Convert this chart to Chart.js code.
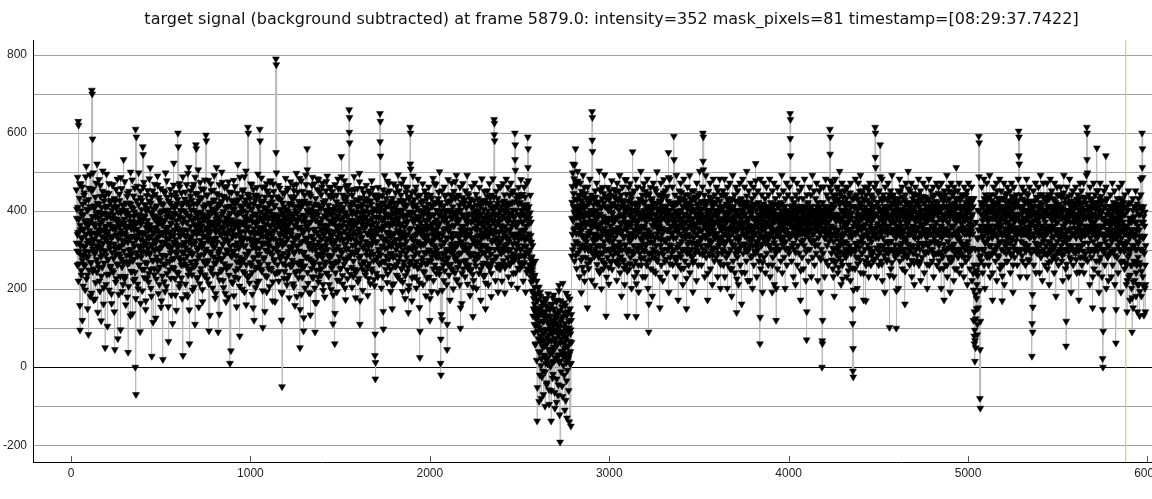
<!DOCTYPE html>
<html>
<head>
<meta charset="utf-8">
<script src="https://cdn.jsdelivr.net/npm/chart.js@4.4.0/dist/chart.umd.min.js"></script>
<style>
  html, body { margin: 0; padding: 0; background: #fff; overflow: hidden; }
  canvas { display: block; }
</style>
</head>
<body>
<canvas id="chart" width="1200" height="499"></canvas>
<script>
const chartTitle = 'target signal (background subtracted) at frame 5879.0: intensity=352 mask_pixels=81 timestamp=[08:29:37.7422]';
const currentFrame = 5879;
const xRange = [-212, 6237];
const yRange = [-243, 838];
const xTickValues = [0, 1000, 2000, 3000, 4000, 5000, 6000];

// segments of 600 frames: segN holds the even offsets (start + 2i), segNb the odd ones (start + 2i + 1)
const segmentStarts = [30, 630, 1230, 1830, 2430, 3030, 3630, 4230, 4830, 5430];

const seg0 = [
  455, 382, 298, 340, 410, 630, 620, 265, 318, 470, 95, 352, 288, 401, 236, 330, 462, 274, 355, 208,
  391, 310, 447, 260, 372, 295, 488, 341, 226, 405, 318, 150, 362, 283, 430, 249, 376, 321, 493, 268,
  344, 412, 190, 710, 700, 585, 303, 457, 252, 368, 329, 414, 175, 386, 297, 472, 338, 244, 420, 311,
  266, 398, 352, 481, 221, 365, 307, 438, 283, 119, 392, 335, 256, 451, 318, 377, 204, 426, 299, 348,
  50, 410, 287, 362, 495, 238, 341, 392, 276, 318, 445, 198, 367, 305, 422, 259, 383, 331, 163, 402,
  294, 356, 467, 243, 381, 316, 432, 45, 352, 289, 410, 227, 375, 339, 482, 262, 308, 398, 187, 361,
  427, 284, 343, 96, 396, 312, 458, 257, 369, 325, 212, 415, 298, 380, 344, 476, 233, 358, 402, 271,
  335, 390, 180, 446, 38, 362, 301, 421, 268, 387, 329, 500, 246, 355, 410, 292, 137, 373, 318, 439,
  277, 352, 398, 226, 0, 610, -70, 590, 333, 464, 285, 372, 201, 417, 346, 262, 389, 305, 452, 164,
  367, 296, 428, 251, 340, 565, 545, 311, 474, 230, 385, 323, 415, 148, 358, 292, 440, 267, 376, 332,
  407, 218, 352, 483, 294, 365, 251, 421, 336, 182, 28, 397, 315, 452, 274, 344, 388, 237, 469, 302,
  358, 126, 411, 283, 376, 329, 490, 248, 366, 304, 435, 212, 382, 345, 274, 458, 321, 170, 399, 287,
  341, 20, 417, 265, 373, 318, 447, 194, 356, 402, 286, 330, 478, 240, 391, 312, 155, 426, 347, 271,
  386, 305, 456, 228, 369, 338, 414, 277, 112, 395, 321, 467, 253, 352, 408, 296, 185, 437, 328, 363,
  244, 419, 306, 600, 565, 351, 282, 471, 215, 384, 336, 402, 262, 447, 313, 176, 370, 30, 421, 293
];
const seg0b = [
  318, 405, 262, 487, 346, 221, 379, 296, 433, 158, 364, 312, 470, 248, 391, 333, 120, 418, 287, 352,
  264, 441, 307, 376, 198, 425, 341, 515, 283, 368, 236, 402, 325, 84, 459, 297, 350, 411, 182, 374,
  339, 268, 452, 314, 386, 245, 498, 327, 172, 407, 290, 361, 436, 217, 344, 393, 276, 521, 308, 141,
  383, 322, 256, 418, 345, 195, 466, 301, 372, 234, 409, 352, 288, 503, 318, 162, 395, 267, 438, 331,
  296, 358, 212, 447, 325, 384, 105, 413, 276, 349, 471, 239, 393, 316, 255, 428, 362, 188, 334, 468,
  248, 412, 336, 279, 391, 142, 360, 425, 303, 218, 456, 339, 380, 265, 412, 73, 329, 375, 291, 444,
  309, 364, 233, 486, 351, 277, 403, 194, 342, 416, 268, 532, 317, 370, 226, 398, 340, 160, 421, 287,
  356, 438, 264, 321, 395, 207, 451, 330, 286, 374, 132, 418, 302, 362, 245, 480, 336, 273, 406, 222,
  387, 310, 459, 243, 366, 176, 327, 427, 294, 354, 213, 392, 338, 498, 262, 311, 380, 91, 435, 328,
  282, 404, 345, 196, 377, 296, 462, 323, 251, 388, 417, 269, 343, 170, 401, 316, 366, 228, 453, 305,
  364, 240, 426, 332, 289, 511, 356, 202, 395, 310, 437, 274, 348, 115, 406, 326, 253, 380, 299, 443,
  318, 387, 226, 414, 351, 273, 467, 335, 189, 372, 300, 428, 257, 396, 341, 154, 420, 308, 365, 234,
  401, 286, 346, 452, 219, 377, 320, 263, 498, 342, 207, 385, 314, 436, 272, 359, 66, 403, 330, 250,
  344, 421, 293, 368, 185, 442, 309, 382, 256, 413, 337, 523, 279, 350, 227, 394, 318, 448, 146, 376,
  292, 357, 430, 241, 389, 314, 206, 462, 338, 274, 401, 352, 229, 415, 296, 346, 488, 263, 381, 320
];
const seg1 = [
  352, 276, 431, 318, 213, 395, 337, 468, 259, 372, 181, 424, 301, 512, 247, 60, 386, 329, 452, 270,
  403, 315, 237, 377, 461, 292, 348, 418, 205, 366, 324, 487, 262, 570, 560, 341, 391, 228, 445, 307,
  379, 154, 426, 287, 355, 474, 243, 398, 313, 362, 435, 199, 381, 336, 272, 456, 318, 389, 233, 414,
  296, 595, 580, 352, 440, 268, 371, 325, 479, 214, 387, 342, 133, 416, 291, 363, 452, 255, 398, 320,
  372, 238, 427, 309, 491, 266, 357, 403, 189, 380, 331, 445, 278, 365, 410, 90, 349, 297, 468, 224,
  384, 342, 419, 275, 360, 500, 251, 393, 316, 438, 204, 371, 327, 461, 289, 346, 409, 168, 376, 301,
  432, 258, 364, 322, 475, 236, 389, 350, 10, 413, 287, 367, 448, 219, 378, 334, 295, 421, 352, 183,
  405, 313, 463, 247, 371, 338, 426, 270, 390, 309, 520, 228, 357, 396, 282, 80, 414, 345, 263, 437,
  319, 372, 200, 452, 333, 401, 274, 366, 488, 241, 383, 312, 429, 160, 358, 397, 288, 444, 615, 600,
  360, 298, 417, 235, 381, 329, 470, 261, 346, 405, 187, 373, 314, 456, 279, 120, 392, 340, 428, 253,
  368, 303, 441, 216, 387, 326, 495, 270, 356, 412, 290, 610, 580, 345, 423, 251, 378, 319, 462, 196,
  374, 336, 409, 281, 358, 143, 436, 300, 385, 349, 471, 232, 397, 315, 264, 445, 328, 383, 207, 418,
  294, 361, 478, 249, 392, 337, 424, 170, 375, 306, 451, 272, 350, 415, 240, 384, 790, 775, 326, 437,
  263, 371, 312, 466, 221, 389, 343, 405, 286, 358, 430, 192, 376, -50, 312, 447, 266, 395, 338, 411,
  245, 373, 320, 484, 279, 356, 402, 226, 387, 331, 459, 297, 365, 178, 420, 309, 382, 347, 437, 264
];
const seg1b = [
  401, 338, 264, 449, 307, 186, 372, 420, 285, 351, 497, 236, 389, 322, 147, 414, 296, 361, 438, 252,
  335, 428, 289, 198, 377, 343, 469, 258, 402, 317, 110, 383, 445, 272, 356, 230, 419, 301, 364, 506,
  281, 396, 346, 214, 433, 325, 371, 253, 457, 309, 392, 168, 348, 411, 289, 377, 237, 480, 336, 264,
  417, 303, 358, 442, 226, 385, 331, 274, 398, 93, 356, 421, 296, 349, 470, 247, 372, 315, 406, 203,
  329, 454, 283, 366, 308, 429, 177, 392, 346, 268, 512, 321, 381, 239, 418, 352, 291, 441, 136, 373,
  303, 387, 246, 425, 339, 279, 474, 316, 222, 399, 357, 436, 265, 343, 189, 410, 327, 383, 252, 463,
  341, 295, 412, 179, 376, 324, 449, 260, 395, 310, 42, 367, 428, 284, 351, 216, 404, 337, 479, 298,
  362, 231, 418, 340, 286, 391, 155, 446, 319, 374, 253, 430, 305, 365, 208, 487, 332, 271, 398, 348,
  278, 410, 324, 369, 245, 455, 311, 386, 193, 421, 347, 290, 503, 263, 374, 330, 415, 230, 359, 440,
  297, 378, 216, 433, 345, 268, 406, 322, 468, 243, 387, 308, 152, 419, 355, 282, 441, 326, 371, 204,
  393, 318, 461, 257, 346, 412, 289, 374, 221, 437, 305, 358, 264, 398, 336, 485, 246, 383, 315, 102,
  351, 426, 277, 392, 318, 462, 235, 367, 334, 408, 193, 452, 297, 380, 342, 253, 420, 311, 364, 476,
  327, 401, 254, 346, 436, 288, 383, 219, 470, 330, 365, 276, 412, 168, 391, 303, 550, 498, 358, 242,
  385, 296, 433, 316, 372, 245, 459, 338, 278, 403, 325, 121, 368, 190, 421, 352, 292, 384, 228, 446,
  318, 364, 405, 261, 378, 344, 211, 454, 329, 287, 399, 351, 236, 417, 306, 372, 475, 258, 340, 394
];
const seg2 = [
  305, 418, 262, 379, 214, 466, 331, 292, 437, 158, 364, 401, 245, 497, 312, 373, 268, 449, 336, 229,
  412, 298, 484, 50, 359, 264, 423, 187, 376, 322, 451, 255, 390, 93, 348, 295, 426, 203, 383, 331,
  468, 281, 402, 560, 243, 363, 316, 448, 191, 421, 305, 372, 134, 439, 274, 391, 334, 232, 487, 313,
  399, 262, 351, 470, 203, 90, 377, 300, 418, 166, 345, 456, 283, 392, 231, 481, 321, 368, 249, 409,
  289, 355, 442, 253, 381, 311, 472, 212, 364, 294, 421, 341, 180, 403, 270, 452, 323, 384, 241, 490,
  302, 361, 415, 233, 347, 461, 281, 394, 323, 436, 199, 372, 286, 450, 340, 111, 404, 263, 381, 318,
  60, 468, 242, 362, 303, 424, 193, 388, 334, 482, 271, 353, 411, 222, 379, 301, 459, 254, 540, 342,
  293, 402, 213, 441, 329, 372, 264, 478, 314, 391, 173, 424, 302, 361, 437, 250, 386, 327, 466, 282,
  660, 640, 352, 410, 238, 377, 296, 455, 205, 393, 341, 423, 272, 361, 489, 251, 398, 312, 178, 430,
  322, 369, 248, 458, 301, 383, 412, 227, 349, 475, 110, 397, 285, 434, 330, 262, 366, 418, 197, 385,
  307, 447, 271, 359, 401, 236, 384, 322, 466, 288, 343, 427, 184, 375, 311, 452, 266, 398, 339, 214,
  426, 297, 364, 478, 245, 382, 327, 406, 273, 351, 440, 209, 30, -30, 358, 442, 276, 401, 322, 369,
  232, 461, 384, 294, 415, 356, 650, 630, 288, 410, 203, 352, 440, 311, 380, 143, 421, 272, 362, 491,
  305, 393, 251, 432, 346, 368, 217, 477, 322, 385, 261, 414, 337, 452, 290, 369, 194, 425, 310, 380,
  150, 433, 341, 282, 470, 214, 372, 323, 409, 258, 391, 302, 464, 263, 350, 421, 231, 383, 314, 452
];
const seg2b = [
  352, 274, 431, 319, 388, 206, 453, 296, 363, 412, 241, 378, 332, 469, 181, 395, 310, 357, 425, 264,
  338, 385, 247, 148, 408, 319, 478, 272, 353, 230, 416, 345, 291, 127, 386, 441, 260, 371, 324, 492,
  283, 360, 418, 506, 331, 215, 397, 352, 278, 443, 318, 190, 372, 405, 336, 253, 466, 302, 381, 229,
  414, 328, 270, 387, 354, 166, 432, 313, 249, 399, 345, 483, 290, 372, 218, 415, 337, 265, 451, 306,
  371, 235, 408, 329, 462, 281, 354, 197, 423, 341, 300, 389, 262, 427, 352, 312, 476, 241, 364, 330,
  398, 287, 350, 441, 212, 376, 329, 404, 267, 461, 337, 254, 391, 315, 370, 185, 437, 299, 348, 412,
  138, 374, 325, 402, 270, 441, 359, 223, 386, 310, 457, 343, 283, 398, 327, 252, 418, 364, 488, 296,
  361, 235, 409, 325, 384, 278, 430, 349, 203, 397, 316, 463, 276, 342, 388, 227, 452, 305, 371, 336,
  602, 575, 418, 286, 364, 330, 401, 256, 441, 313, 376, 233, 420, 348, 291, 456, 327, 369, 244, 393,
  340, 412, 296, 373, 219, 428, 355, 280, 497, 318, 171, 382, 343, 264, 409, 333, 458, 251, 374, 306,
  393, 268, 354, 426, 312, 385, 246, 433, 299, 367, 412, 258, 342, 397, 227, 376, 318, 445, 286, 364,
  349, 418, 314, 252, 395, 336, 459, 290, 370, 225, 406, 338, 85, 12, 320, 385, 241, 430, 345, 283,
  415, 302, 357, 438, 264, 397, 578, 541, 335, 268, 421, 309, 376, 232, 455, 98, 361, 324, 403, 270,
  383, 330, 412, 285, 367, 448, 306, 239, 392, 346, 471, 278, 361, 314, 420, 251, 388, 336, 292, 407,
  211, 366, 397, 318, 259, 421, 343, 380, 286, 448, 327, 364, 236, 402, 311, 376, 493, 272, 349, 398
];
const seg3 = [
  341, 283, 428, 224, 393, 312, 471, 253, 368, 194, 419, 301, 482, 261, 359, 334, 176, 411, 292, 448,
  323, 387, 245, 461, 302, 140, 398, 209, 352, 437, 615, 600, 272, 393, 331, 170, 423, 304, 490, 262,
  371, 311, 430, 232, 380, 291, 462, 203, 354, 408, 322, 254, 482, 361, 293, 402, 153, 25, 441, 313,
  372, 263, 424, 340, 281, 470, 212, 391, 315, 362, 243, 452, 334, 401, 183, 373, 294, 433, 352, 267,
  403, 301, 462, 231, 382, 120, 324, 441, 272, 362, 194, 412, 293, 353, 484, 222, 391, 312, 423, 262,
  372, 335, 469, 241, 402, 301, 362, 192, 432, 282, 391, 343, 501, 252, 371, 10, -20, 312, 452, 122,
  383, 291, 412, 353, 222, 462, 321, 392, 271, 441, 302, 383, 212, 45, 423, 332, 481, 262, 361, 301,
  401, 172, 442, 311, 384, 252, 472, 330, 293, 411, 201, 362, 451, 302, 390, 242, 433, 341, 282, 492,
  222, 372, 313, 402, 271, 441, 332, 380, 211, 462, 100, 352, 293, 423, 163, 391, 312, 471, 252, 361,
  421, 303, 383, 232, 452, 331, 274, 411, 352, 492, 213, 372, 302, 441, 262, 393, 341, 184, 431, 313,
  372, 251, 463, 332, 292, 130, 412, 222, 381, 332, 472, 271, 401, 312, 443, 201, 362, 391, 281, 432,
  322, 382, 241, 461, 303, 352, 413, 172, 392, 331, 483, 262, 373, 311, 422, 233, 361, 451, 292, 341,
  150, 421, 312, 373, 264, 452, 333, 401, 211, 382, 302, 471, 253, 362, 420, 290, 181, 441, 321, 392,
  272, 483, 340, 373, 635, 625, 302, 411, 222, 362, 451, 283, 393, 332, 432, 193, 372, 301, 463, 253,
  301, 252, 462, 363, 292, 412, 221, 381, 331, 471, 273, 402, 312, 442, 191, 361, 421, 303, 482, 262
];
const seg3b = [
  402, 327, 362, 294, 441, 252, 367, 334, 403, 218, 386, 346, 270, 427, 315, 390, 235, 462, 337, 372,
  281, 416, 341, 374, 256, 198, 432, 307, 395, 266, 521, 508, 356, 304, 448, 229, 381, 336, 412, 283,
  324, 397, 262, 451, 339, 305, 416, 271, 386, 342, 225, 439, 319, 378, 256, 354, 216, 92, 386, 343,
  312, 421, 355, 273, 398, 336, 246, 427, 351, 294, 410, 317, 377, 265, 443, 324, 356, 228, 391, 418,
  338, 274, 405, 362, 299, 176, 389, 356, 318, 433, 283, 368, 341, 415, 252, 390, 327, 471, 295, 346,
  307, 421, 283, 352, 378, 253, 401, 335, 291, 449, 366, 239, 416, 328, 422, 72, 135, 401, 277, 197,
  340, 386, 262, 414, 319, 375, 247, 438, 356, 293, 399, 331, 281, 110, 371, 279, 402, 349, 236, 425,
  357, 297, 396, 264, 427, 343, 316, 381, 248, 436, 339, 287, 398, 364, 312, 476, 275, 384, 342, 225,
  393, 318, 256, 437, 341, 374, 291, 415, 336, 268, 152, 403, 361, 322, 241, 435, 348, 389, 305, 418,
  346, 272, 430, 315, 380, 264, 409, 336, 297, 368, 445, 253, 389, 341, 306, 420, 287, 248, 375, 352,
  288, 409, 330, 391, 238, 205, 374, 322, 427, 283, 356, 396, 318, 260, 381, 352, 415, 290, 337, 369,
  401, 318, 372, 284, 421, 339, 251, 394, 313, 366, 428, 295, 345, 383, 267, 405, 334, 380, 236, 427,
  216, 354, 391, 305, 438, 281, 369, 338, 265, 418, 347, 386, 302, 434, 349, 263, 241, 377, 408, 326,
  352, 402, 275, 436, 596, 580, 388, 325, 283, 412, 348, 374, 256, 420, 313, 264, 392, 346, 405, 318,
  379, 324, 402, 296, 357, 381, 264, 423, 305, 388, 342, 297, 426, 348, 255, 397, 336, 380, 409, 315
];
const seg4 = [
  352, 412, 281, 461, 232, 381, 322, 441, 262, 392, 302, 472, 213, 362, 421, 341, 291, 403, 452, 272,
  383, 331, 600, 570, 242, 402, 301, 363, 442, 203, 372, 312, 461, 281, 391, 342, 252, 422, 302, 481,
  332, 401, 262, 371, 443, 221, 392, 311, 462, 283, 352, 412, 193, 381, 331, 471, 252, 402, 590, 560,
  342, 412, 263, 382, 301, 441, 232, 372, 321, 283, 250, 312, 190, 268, 150, 231, 110, 205, 142, 272,
  60, 188, 123, 221, -138, 171, 92, 135, 40, 205, 102, -20, 148, 65, 182, -80, 22, 157, 71, 118,
  -10, 86, 163, 31, 129, 55, -100, 142, 10, 97, 175, -40, 61, 118, 25, 152, 83, -58, 108, 45,
  131, 2, 90, -138, 68, 160, 37, -28, 115, 52, 185, 15, 96, -65, 140, 74, 20, 125, -90, 58,
  172, 30, 104, -45, 81, 210, 12, 145, -192, 63, 118, -12, 92, 155, 41, -75, 130, 5, 84, 165,
  48, -110, 112, 26, 70, 190, -35, -130, 95, 18, 142, 55, -60, 101, 33, 175, 8, 86, -151, 120,
  64, 382, 463, 301, 521, 412, 352, 483, 272, 431, 392, 560, 322, 471, 253, 402, 361, 502, 293, 441,
  343, 412, 232, 382, 472, 311, 403, 191, 451, 352, 421, 282, 492, 331, 383, 243, 461, 302, 412, 362,
  281, 433, 322, 391, 152, 462, 301, 372, 253, 421, 341, 482, 272, 401, 312, 441, 223, 655, 640, 362,
  392, 291, 431, 322, 371, 210, 452, 302, 383, 341, 472, 263, 402, 331, 421, 283, 362, 503, 242, 392,
  311, 452, 333, 201, 412, 371, 292, 461, 252, 382, 421, 322, 493, 263, 372, 341, 131, 432, 301, 372,
  282, 461, 342, 402, 213, 381, 323, 452, 272, 362, 412, 303, 478, 251, 393, 345, 420, 305, 372, 438
];
const seg4b = [
  401, 327, 373, 298, 418, 331, 264, 386, 352, 421, 269, 395, 341, 283, 447, 372, 316, 241, 388, 337,
  424, 281, 532, 505, 362, 317, 433, 286, 371, 341, 254, 418, 327, 392, 268, 436, 351, 303, 387, 441,
  287, 373, 336, 415, 262, 402, 349, 268, 391, 326, 436, 295, 362, 310, 417, 243, 386, 334, 512, 478,
  293, 368, 325, 247, 396, 276, 338, 219, 281, 242, 195, 258, 131, 224, 176, 88, 162, 236, 58, 184,
  107, 152, 18, 173, -52, 128, 205, 73, 148, -88, 115, 38, 192, 80, 4, 136, 95, -25, 168, 52,
  143, -70, 118, 67, 28, 176, -12, 94, 158, 20, -45, 132, 76, 8, 188, 46, 110, -95, 70, 148,
  35, 98, 162, -60, 121, 14, 85, 178, -18, 106, 44, 150, 66, -105, 128, 24, 92, 168, -30, 112,
  58, 136, -72, 88, 196, 32, -122, 104, 16, 170, 72, 40, 124, -48, 86, 215, 28, 62, 140, -20,
  102, 36, 158, -85, 78, 12, 132, 54, -8, 182, 90, 24, 118, -140, 66, 150, 40, 96, 10, 135,
  285, 423, 341, 498, 376, 445, 312, 398, 519, 356, 412, 287, 466, 343, 384, 429, 318, 477, 365, 405,
  392, 356, 438, 301, 415, 362, 275, 427, 338, 393, 256, 442, 371, 314, 408, 366, 221, 392, 446, 331,
  372, 308, 415, 336, 265, 396, 343, 425, 301, 386, 349, 276, 433, 362, 298, 402, 375, 582, 553, 328,
  341, 416, 363, 284, 398, 329, 374, 436, 311, 363, 292, 418, 355, 386, 248, 424, 337, 391, 312, 456,
  366, 294, 408, 352, 275, 432, 346, 387, 310, 445, 268, 377, 356, 412, 302, 438, 349, 231, 382, 341,
  407, 328, 373, 256, 429, 345, 382, 296, 441, 337, 269, 398, 353, 322, 416, 287, 372, 353, 456, 310
];
const seg5 = [
  332, 413, 272, 451, 312, 382, 223, 472, 351, 293, 432, 262, 403, 321, 492, 242, 371, 312, 441, 182,
  392, 301, 462, 352, 271, 421, 332, 383, 212, 481, 313, 402, 262, 443, 352, 131, 412, 302, 372, 461,
  251, 392, 323, 471, 282, 362, 431, 202, 401, 341, 552, 291, 382, 312, 452, 232, 421, 352, 272, 482,
  130, 402, 243, 371, 462, 301, 412, 193, 352, 431, 292, 392, 331, 502, 262, 381, 312, 441, 232, 362,
  422, 281, 471, 342, 392, 232, 451, 311, 372, 412, 272, 482, 331, 202, 401, 90, 442, 292, 382, 321,
  461, 252, 392, 341, 432, 182, 412, 302, 472, 361, 282, 421, 332, 392, 242, 452, 312, 372, 501, 272,
  402, 332, 441, 292, 381, 362, 152, 422, 312, 472, 262, 392, 341, 432, 222, 402, 301, 481, 352, 382,
  271, 452, 322, 392, 412, 242, 372, 461, 302, 352, 550, 192, 402, 331, 482, 282, 362, 421, 312, 392,
  342, 462, 262, 412, 331, 592, 301, 382, 441, 232, 372, 332, 492, 282, 401, 352, 422, 172, 392, 312,
  452, 292, 382, 342, 472, 252, 402, 322, 432, 362, 212, 412, 302, 482, 352, 392, 272, 442, 332, 372,
  150, 421, 292, 462, 341, 383, 262, 412, 321, 491, 242, 372, 432, 302, 362, 452, 282, 402, 193, 382,
  332, 452, 272, 402, 362, 431, 302, 392, 222, 472, 342, 382, 412, 262, 441, 322, 372, 502, 292, 402,
  352, 422, 262, 392, 332, 462, 600, 590, 302, 382, 441, 232, 372, 332, 491, 282, 402, 352, 422, 172,
  392, 312, 451, 292, 382, 342, 472, 252, 402, 322, 432, 362, 212, 412, 302, 482, 352, 392, 272, 442,
  331, 371, 422, 282, 462, 342, 392, 232, 452, 312, 372, 412, 271, 482, 332, 202, 402, 362, 441, 292
];
const seg5b = [
  378, 296, 432, 351, 268, 413, 342, 384, 292, 427, 358, 305, 452, 276, 388, 345, 412, 283, 367, 424,
  348, 428, 275, 386, 420, 336, 254, 409, 372, 314, 398, 358, 481, 296, 371, 246, 364, 426, 335, 298,
  406, 343, 266, 388, 442, 327, 371, 298, 418, 384, 445, 335, 261, 402, 352, 294, 377, 416, 336, 395,
  214, 361, 419, 306, 377, 345, 262, 421, 398, 312, 385, 351, 428, 278, 392, 357, 324, 458, 301, 386,
  337, 402, 358, 298, 424, 383, 316, 440, 337, 261, 405, 352, 389, 293, 445, 162, 382, 347, 412, 276,
  395, 334, 426, 290, 364, 405, 318, 378, 247, 413, 372, 331, 458, 296, 389, 364, 276, 418, 342, 383,
  353, 407, 291, 384, 352, 426, 231, 374, 398, 326, 442, 357, 301, 382, 413, 289, 447, 352, 326, 404,
  412, 328, 396, 277, 352, 438, 301, 386, 351, 425, 486, 314, 378, 402, 265, 421, 346, 388, 293, 362,
  388, 344, 415, 301, 373, 532, 369, 281, 399, 354, 418, 273, 362, 421, 347, 308, 387, 262, 434, 358,
  316, 394, 362, 427, 283, 369, 448, 336, 381, 299, 412, 355, 254, 392, 336, 428, 373, 302, 389, 417,
  228, 354, 406, 315, 389, 338, 442, 296, 362, 421, 335, 287, 398, 356, 413, 318, 376, 430, 268, 349,
  405, 368, 318, 436, 293, 365, 394, 342, 312, 388, 419, 299, 356, 441, 318, 378, 396, 446, 332, 374,
  384, 312, 425, 351, 406, 289, 528, 506, 365, 421, 338, 297, 412, 361, 426, 312, 386, 338, 369, 241,
  349, 402, 363, 326, 436, 288, 381, 317, 375, 423, 356, 298, 287, 387, 348, 421, 306, 369, 334, 402,
  373, 338, 392, 343, 386, 305, 431, 292, 368, 401, 327, 374, 318, 425, 356, 264, 379, 407, 351, 321
];
const seg6 = [
  382, 302, 452, 262, 412, 342, 482, 232, 392, 322, 442, 282, 372, 412, 202, 462, 332, 392, 292, 422,
  352, 472, 252, 382, 322, 432, 182, 402, 362, 492, 272, 412, 312, 382, 442, 242, 372, 332, 462, 302,
  140, 402, 282, 452, 352, 212, 422, 332, 392, 472, 262, 382, 312, 432, 162, 402, 352, 482, 292, 372,
  422, 312, 462, 242, 392, 342, 412, 272, 502, 332, 382, 222, 422, 302, 452, 362, 222, 402, 332, 472,
  282, 392, 352, 432, 202, 412, 312, 462, 262, 382, 342, 442, 292, 522, 362, 402, 232, 372, 322, 452,
  302, 422, 272, 392, 342, 60, 482, 252, 402, 312, 442, 362, 192, 412, 332, 472, 282, 382, 352, 432,
  242, 402, 322, 462, 292, 372, 412, 342, 262, 442, 312, 392, 482, 232, 362, 422, 302, 402, 352, 192,
  452, 282, 382, 332, 472, 212, 402, 352, 432, 292, 120, 392, 312, 462, 252, 412, 342, 372, 382, 442,
  302, 362, 422, 272, 402, 332, 492, 242, 382, 312, 452, 352, 282, 412, 372, 202, 432, 322, 392, 472,
  262, 402, 342, 442, 302, 382, 292, 462, 332, 650, 635, 412, 362, 272, 432, 312, 392, 482, 232, 362,
  422, 302, 402, 352, 212, 442, 332, 382, 472, 262, 402, 312, 432, 362, 292, 452, 342, 382, 172, 412,
  322, 462, 282, 392, 352, 432, 252, 402, 312, 482, 342, 372, 412, 222, 392, 70, 442, 302, 362, 422,
  272, 402, 332, 462, 302, 382, 352, 442, 232, 412, 322, 492, 282, 372, 402, 342, 452, 262, 382, 312,
  432, 352, 292, 472, 362, 402, 222, 422, 332, 382, 452, 282, 412, 342, 192, 462, 302, 392, 0, 60,
  422, 292, 462, 352, 392, 232, 412, 332, 482, 272, 372, 442, 312, 402, 352, 262, 432, 322, 392, 462
];
const seg6b = [
  334, 412, 376, 298, 442, 363, 315, 398, 321, 387, 352, 418, 293, 340, 431, 264, 379, 356, 412, 337,
  398, 336, 412, 302, 374, 358, 253, 429, 315, 408, 346, 371, 387, 312, 356, 398, 292, 426, 348, 387,
  226, 353, 401, 366, 296, 324, 388, 371, 305, 418, 336, 429, 364, 381, 243, 362, 398, 413, 342, 316,
  368, 393, 337, 316, 424, 356, 298, 382, 439, 371, 304, 298, 364, 382, 347, 412, 312, 358, 396, 321,
  352, 328, 402, 383, 286, 362, 418, 337, 352, 411, 298, 374, 343, 478, 321, 381, 309, 418, 365, 392,
  376, 355, 331, 412, 286, 128, 387, 334, 369, 402, 352, 316, 268, 375, 391, 418, 336, 357, 402, 362,
  318, 364, 392, 341, 372, 405, 331, 398, 327, 383, 364, 341, 412, 313, 392, 356, 341, 374, 418, 262,
  371, 348, 414, 392, 319, 332, 373, 301, 387, 346, 202, 418, 351, 376, 338, 385, 302, 412, 356, 381,
  346, 392, 369, 329, 378, 418, 386, 321, 354, 398, 363, 382, 335, 367, 412, 304, 372, 386, 343, 396,
  352, 368, 398, 374, 342, 336, 372, 387, 305, 586, 542, 371, 396, 338, 378, 356, 414, 392, 318, 404,
  376, 342, 361, 398, 294, 387, 352, 413, 368, 339, 371, 396, 356, 412, 347, 378, 383, 345, 248, 373,
  364, 381, 342, 411, 372, 398, 326, 368, 353, 404, 389, 341, 368, 296, 383, 142, 376, 352, 418, 386,
  342, 378, 396, 367, 353, 412, 371, 386, 321, 368, 392, 354, 341, 389, 402, 368, 392, 325, 373, 396,
  381, 396, 355, 371, 412, 368, 314, 376, 392, 358, 381, 347, 398, 372, 276, 386, 366, 403, 68, 120,
  378, 356, 402, 381, 349, 332, 396, 368, 411, 342, 384, 371, 356, 392, 403, 338, 372, 388, 349, 412
];
const seg7 = [
  610, 590, 382, 452, 292, 402, 342, 472, 252, 392, 322, 432, 182, 412, 352, 482, 272, 382, 332, 442,
  302, 462, 242, 392, 352, 422, 282, 502, 312, 372, 442, 212, 402, 332, 472, 262, 382, 342, 422, 292,
  392, 452, 322, 362, 412, 282, 432, 232, 372, 462, 302, 402, 352, 262, 442, 312, 392, 222, 472, 342,
  382, 302, 432, 150, -10, -25, 362, 432, 302, 412, 252, 482, 342, 382, 312, 442, 202, 402, 362, 472,
  282, 372, 422, 322, 392, 492, 242, 412, 352, 452, 292, 382, 332, 432, 172, 402, 362, 462, 272, 392,
  170, 442, 352, 402, 282, 462, 332, 392, 232, 422, 302, 472, 362, 402, 262, 442, 322, 382, 412, 292,
  352, 432, 272, 392, 462, 342, 615, 600, 332, 472, 232, 392, 362, 422, 302, 412, 262, 452, 312, 382,
  570, 402, 272, 432, 352, 482, 222, 392, 332, 442, 302, 372, 412, 192, 462, 322, 382, 352, 432, 272,
  402, 342, 472, 292, 412, 362, 102, 392, 322, 452, 252, 422, 372, 492, 302, 382, 342, 442, 232, 402,
  352, 432, 282, 392, 332, 100, 412, 362, 382, 302, 452, 202, 402, 342, 482, 272, 372, 422, 312, 392,
  352, 462, 252, 402, 332, 432, 292, 382, 412, 162, 442, 322, 472, 362, 392, 282, 422, 342, 502, 302,
  382, 412, 262, 452, 342, 392, 312, 472, 232, 402, 362, 432, 292, 382, 442, 212, 412, 332, 462, 372,
  302, 422, 352, 272, 442, 392, 332, 482, 262, 372, 412, 302, 452, 222, 402, 342, 432, 282, 392, 362,
  472, 312, 382, 242, 422, 352, 402, 292, 462, 332, 372, 202, 432, 312, 392, 352, 482, 262, 412, 342,
  382, 452, 302, 362, 422, 272, 402, 342, 462, 232, 392, 332, 442, 292, 372, 412, 322, 472, 262, 402
];
const seg7b = [
  546, 478, 402, 331, 362, 275, 418, 305, 386, 232, 441, 358, 303, 392, 267, 426, 341, 374, 289, 458,
  349, 388, 312, 431, 256, 379, 324, 417, 296, 451, 338, 384, 272, 402, 358, 226, 436, 317, 371, 402,
  286, 343, 394, 302, 461, 352, 318, 386, 421, 294, 370, 247, 418, 336, 382, 301, 447, 354, 292, 412,
  333, 396, 254, 112, 48, 198, 412, 345, 372, 296, 438, 318, 364, 282, 407, 346, 391, 265, 431, 352,
  384, 307, 451, 362, 274, 418, 335, 382, 293, 446, 356, 318, 402, 241, 386, 339, 428, 302, 366, 411,
  262, 396, 341, 376, 428, 314, 382, 268, 453, 347, 391, 305, 418, 331, 372, 288, 437, 356, 298, 381,
  404, 339, 412, 278, 386, 355, 538, 512, 394, 342, 306, 423, 369, 286, 448, 331, 384, 403, 348, 296,
  488, 362, 341, 398, 264, 427, 352, 379, 312, 405, 366, 286, 432, 349, 301, 396, 412, 276, 389, 348,
  359, 428, 316, 386, 302, 442, 235, 376, 348, 411, 322, 389, 268, 437, 354, 401, 296, 372, 418, 339,
  396, 314, 373, 425, 288, 196, 386, 341, 418, 356, 292, 432, 347, 381, 312, 449, 336, 298, 405, 362,
  318, 392, 341, 436, 281, 389, 352, 303, 428, 246, 376, 395, 332, 421, 288, 368, 402, 316, 457, 354,
  341, 376, 408, 298, 386, 349, 421, 274, 392, 356, 311, 445, 336, 402, 267, 384, 348, 426, 302, 381,
  398, 352, 286, 417, 359, 311, 441, 382, 318, 395, 346, 428, 271, 386, 337, 403, 358, 316, 438, 345,
  367, 421, 296, 378, 342, 436, 318, 389, 352, 412, 264, 387, 341, 405, 296, 428, 352, 317, 381, 402,
  341, 386, 412, 322, 379, 301, 438, 356, 392, 287, 414, 362, 318, 396, 348, 425, 371, 292, 402, 352
];
const seg8 = [
  342, 422, 292, 462, 312, 382, 252, 442, 362, 402, 202, 472, 332, 392, 282, 432, 352, 412, 172, 452,
  302, 382, 442, 262, 412, 342, 492, 232, 372, 322, 462, 282, 402, 352, 432, 192, 392, 312, 472, 272,
  412, 362, 442, 302, 382, 222, 462, 342, 402, 292, 432, 372, 512, 252, 392, 332, 452, 282, 412, 352,
  472, 242, 382, 322, 432, 292, 402, 352, 262, 442, 312, 372, 412, 232, 462, 342, 392, 302, 422, 272,
  392, 342, 452, 212, 402, 322, 472, 282, 362, 412, 252, 432, 352, 382, 302, 462, 222, 392, 342, 412,
  120, 432, 80, 60, 15, 302, 50, 372, 242, 150, 332, 110, 402, 262, 352, 592, 575, 282, -80, -105,
  362, 422, 272, 462, 332, 392, 242, 412, 352, 482, 302, 382, 202, 442, 322, 402, 362, 472, 282, 392,
  342, 432, 262, 412, 312, 492, 232, 382, 362, 442, 292, 402, 332, 172, 422, 352, 462, 302, 382, 412,
  442, 272, 402, 342, 472, 222, 392, 312, 432, 362, 282, 412, 352, 482, 252, 382, 322, 452, 302, 402,
  170, 432, 262, 392, 342, 472, 212, 402, 322, 442, 372, 292, 422, 352, 462, 272, 392, 332, 412, 302,
  412, 362, 452, 242, 382, 332, 472, 292, 402, 352, 192, 432, 312, 462, 372, 282, 412, 342, 392, 442,
  302, 422, 262, 392, 352, 482, 605, 590, 302, 412, 232, 372, 442, 322, 392, 352, 462, 272, 412, 342,
  382, 452, 302, 372, 422, 262, 402, 342, 482, 232, 382, 352, 442, 312, 402, 272, 462, 332, 392, 362,
  422, 292, 372, 28, 402, 90, 342, 452, 262, 412, 332, 392, 302, 472, 242, 382, 362, 432, 292, 412,
  352, 462, 312, 382, 242, 422, 342, 492, 282, 392, 362, 442, 222, 402, 332, 472, 302, 382, 432, 262
];
const seg8b = [
  392, 318, 446, 352, 273, 408, 337, 382, 296, 437, 361, 288, 412, 347, 376, 253, 426, 315, 388, 341,
  356, 412, 298, 381, 347, 428, 262, 396, 341, 372, 412, 306, 451, 337, 386, 272, 419, 362, 304, 398,
  338, 417, 282, 392, 361, 448, 316, 386, 252, 421, 348, 302, 408, 374, 336, 433, 296, 381, 347, 412,
  391, 332, 427, 356, 303, 412, 368, 286, 438, 349, 387, 316, 442, 358, 282, 407, 345, 378, 316, 441,
  346, 396, 311, 382, 428, 352, 296, 416, 371, 338, 402, 298, 366, 421, 348, 388, 305, 432, 362, 241,
  198, 262, 142, 95, 68, 186, 124, 248, 176, 212, 83, 235, 330, 152, 301, 488, 402, 197, 45, 118,
  286, 392, 348, 411, 302, 376, 421, 336, 387, 262, 432, 358, 318, 396, 347, 425, 291, 382, 356, 412,
  374, 329, 408, 352, 283, 436, 362, 312, 398, 346, 427, 289, 381, 242, 406, 338, 392, 351, 418, 296,
  362, 418, 341, 386, 309, 452, 334, 372, 286, 421, 356, 398, 318, 433, 346, 375, 262, 412, 365, 339,
  234, 386, 342, 411, 298, 432, 356, 378, 312, 405, 336, 389, 271, 446, 352, 319, 398, 372, 302, 427,
  346, 392, 318, 421, 352, 286, 438, 364, 331, 407, 262, 386, 348, 419, 302, 376, 436, 324, 392, 358,
  381, 337, 412, 296, 386, 428, 542, 521, 376, 345, 298, 412, 367, 338, 402, 286, 431, 356, 374, 318,
  402, 352, 316, 428, 341, 382, 298, 446, 359, 312, 392, 338, 421, 276, 386, 349, 412, 302, 368, 426,
  336, 388, 412, 112, 186, 154, 398, 342, 376, 302, 426, 358, 318, 389, 296, 436, 348, 381, 312, 398,
  369, 412, 338, 386, 296, 442, 352, 316, 407, 362, 298, 418, 341, 386, 322, 436, 356, 292, 402, 348
];
const seg9 = [
  372, 432, 292, 402, 342, 472, 252, 392, 322, 442, 362, 212, 412, 302, 482, 352, 382, 272, 452, 332,
  402, 282, 432, 362, 392, 242, 472, 312, 382, 422, 182, 402, 342, 462, 292, 372, 412, 262, 442, 332,
  352, 392, 302, 462, 332, 412, 272, 382, 442, 222, 402, 362, 492, 292, 382, 342, 432, 252, 54, 322,
  462, 302, 392, 352, 422, 232, 402, 332, 482, 282, 372, 412, 192, 442, 342, 392, 302, 452, 262, 402,
  342, 412, 372, 422, 292, 462, 332, 392, 242, 412, 352, 442, 302, 382, 172, 432, 362, 472, 282, 402,
  332, 452, 262, 392, 352, 422, 282, 472, 242, 402, 362, 432, 292, 382, 342, 492, 615, 600, 272, 412,
  352, 442, 302, 392, 212, 462, 332, 402, 372, 282, 432, 352, 152, 412, 322, 472, 252, 392, 362, 442,
  302, 422, 272, 382, 562, 332, 452, 242, 402, 352, 192, 432, 312, 472, 282, 392, 362, 422, 232, 402,
  22, 0, 382, 302, 452, 332, 262, 412, 322, 542, 202, 372, 352, 432, 282, 352, 222, 402, 342, 312,
  412, 292, 442, 362, 232, 392, 322, 472, 262, 382, 342, 422, 302, 452, 212, 372, 332, 62, 402, 352,
  282, 432, 372, 242, 412, 322, 462, 302, 382, 352, 432, 192, 402, 332, 472, 272, 392, 362, 422, 312,
  392, 252, 442, 342, 302, 412, 212, 362, 142, 322, 402, 282, 452, 232, 342, 382, 172, 302, 422, 262,
  352, 202, 90, 312, 432, 152, 382, 272, 412, 222, 342, 302, 452, 182, 372, 262, 402, 142, 322, 282,
  432, 212, 352, 132, 392, 262, 482, 302, 182, 372, 600, 560, 232, 332, 412, 133, 292, 362, 202, 142,
  312
];
const seg9b = [
  338, 396, 312, 425, 356, 288, 412, 346, 392, 268, 431, 352, 317, 386, 296, 442, 348, 402, 312, 376,
  358, 412, 302, 386, 336, 428, 286, 398, 352, 412, 276, 371, 398, 322, 441, 346, 298, 386, 352, 418,
  296, 388, 341, 402, 312, 436, 352, 286, 406, 362, 321, 447, 336, 386, 302, 421, 368, 332, 118, 264,
  402, 348, 376, 312, 438, 296, 386, 352, 418, 332, 398, 276, 426, 356, 312, 388, 342, 406, 298, 371,
  382, 341, 418, 302, 392, 356, 276, 431, 348, 382, 312, 428, 366, 298, 402, 244, 386, 341, 418, 332,
  372, 312, 408, 346, 382, 298, 436, 352, 318, 402, 338, 386, 278, 421, 356, 388, 532, 498, 362, 402,
  318, 386, 346, 412, 296, 382, 358, 428, 302, 392, 346, 418, 232, 386, 352, 412, 296, 372, 338, 406,
  386, 348, 312, 418, 452, 362, 298, 422, 338, 386, 272, 412, 352, 396, 316, 438, 342, 382, 302, 428,
  148, 92, 296, 362, 412, 338, 372, 302, 426, 462, 288, 392, 341, 376, 312, 402, 286, 368, 352, 392,
  336, 386, 372, 412, 298, 352, 386, 412, 332, 402, 296, 372, 348, 416, 286, 382, 346, 148, 362, 412,
  358, 392, 312, 336, 402, 362, 418, 342, 376, 298, 412, 268, 386, 352, 428, 318, 372, 406, 346, 298,
  348, 312, 392, 268, 352, 316, 262, 402, 222, 362, 338, 302, 418, 288, 372, 332, 236, 352, 382, 302,
  372, 262, 178, 352, 402, 218, 336, 312, 386, 268, 372, 336, 412, 242, 352, 302, 418, 212, 362, 318,
  392, 268, 336, 194, 412, 302, 442, 336, 246, 402, 512, 486, 298, 372, 386, 208, 336, 398, 262, 212
];
const evenSegments = [seg0, seg1, seg2, seg3, seg4, seg5, seg6, seg7, seg8, seg9];
const oddSegments = [seg0b, seg1b, seg2b, seg3b, seg4b, seg5b, seg6b, seg7b, seg8b, seg9b];

const signal = [];
evenSegments.forEach((seg, k) => {
  const odd = oddSegments[k];
  seg.forEach((v, i) => {
    signal.push({ x: segmentStarts[k] + 2 * i, y: v });
    if (i < odd.length) signal.push({ x: segmentStarts[k] + 2 * i + 1, y: odd[i] });
  });
});

// small tick marks pointing up into the plot
const innerTicks = {
  id: 'innerTicks',
  afterDraw(chart) {
    const { ctx, chartArea } = chart;
    const x = chart.scales.x;
    ctx.save();
    ctx.strokeStyle = '#555';
    ctx.lineWidth = 1;
    x.ticks.forEach(t => {
      const px = Math.round(x.getPixelForValue(t.value)) + 0.5;
      ctx.beginPath();
      ctx.moveTo(px, chartArea.bottom);
      ctx.lineTo(px, chartArea.bottom - 6);
      ctx.stroke();
    });
    ctx.restore();
  }
};

const tickFont = { family: 'Liberation Sans', size: 12 };

new Chart(document.getElementById('chart').getContext('2d'), {
  type: 'scatter',
  data: {
    datasets: [
      {
        data: signal,
        showLine: true,
        borderColor: '#bcbcbc',
        borderWidth: 1,
        pointStyle: 'triangle',
        rotation: 180,
        pointRadius: 4,
        pointBorderWidth: 0.5,
        pointBorderColor: '#000',
        pointBackgroundColor: '#000',
      },
      {
        data: [{ x: currentFrame, y: yRange[0] }, { x: currentFrame, y: yRange[1] }],
        showLine: true,
        borderColor: '#c8c860',
        borderWidth: 1,
        pointRadius: 0,
      },
    ],
  },
  options: {
    responsive: false,
    animation: false,
    events: [],
    layout: { padding: { top: 0, right: 10, bottom: 0, left: 0 } },
    plugins: {
      legend: { display: false },
      tooltip: { enabled: false },
      title: {
        display: true,
        text: chartTitle,
        fullSize: false,
        color: '#111',
        font: { family: 'DejaVu Sans', size: 16, weight: 'normal' },
        padding: { top: 10, bottom: 11 },
      },
    },
    scales: {
      x: {
        type: 'linear',
        min: xRange[0],
        max: xRange[1],
        afterFit: s => { s.height = 37; },
        afterBuildTicks: s => { s.ticks = xTickValues.map(v => ({ value: v })); },
        grid: { display: false, drawTicks: false },
        border: { display: true, color: '#000', width: 1 },
        ticks: {
          padding: 4,
          color: '#222',
          font: tickFont,
          maxRotation: 0,
          autoSkip: false,
          callback: v => String(v),
        },
      },
      y: {
        type: 'linear',
        min: yRange[0],
        max: yRange[1],
        afterFit: s => { s.width = 33; },
        grid: {
          drawTicks: false,
          color: c => (c.tick && c.tick.value === 0 ? '#000' : '#a0a0a0'),
        },
        border: { display: true, color: '#000', width: 1 },
        ticks: {
          stepSize: 100,
          includeBounds: false,
          padding: 6,
          color: '#222',
          font: tickFont,
          autoSkip: false,
          callback: v => (v % 200 === 0 ? String(v) : ''),
        },
      },
    },
  },
  plugins: [innerTicks],
});
</script>
</body>
</html>
